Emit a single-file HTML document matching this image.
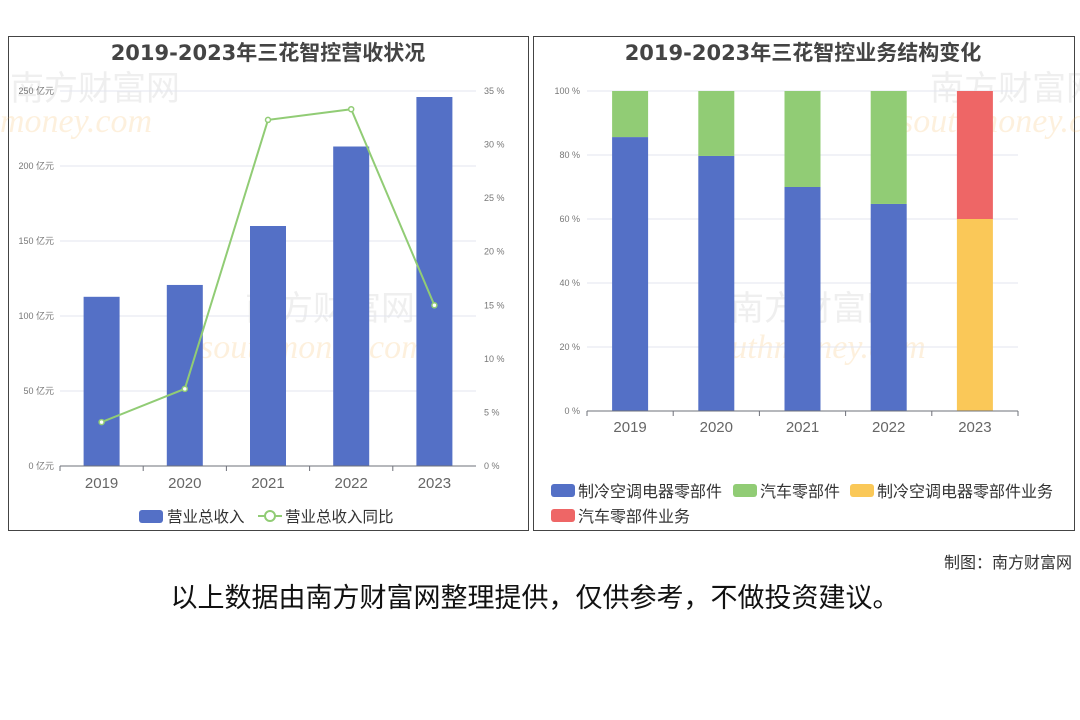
<!DOCTYPE html>
<html><head><meta charset="utf-8"><style>
body{margin:0;width:1080px;height:720px;background:#fff;overflow:hidden;font-family:"Liberation Sans","Noto Sans CJK SC",sans-serif}
svg{position:absolute;left:0;top:0}
</style></head><body>
<svg id="c" width="1080" height="720" font-family="Liberation Sans, Noto Sans CJK SC, sans-serif">
<rect x="8.5" y="36.5" width="520" height="494" fill="#fff" stroke="#444"/>
<rect x="533.5" y="36.5" width="541" height="494" fill="#fff" stroke="#444"/>
<g opacity="0.13" fill="#888" font-size="34">
<text x="10" y="100">南方财富网</text><text x="245" y="320">南方财富网</text><text x="730" y="320">南方财富网</text><text x="930" y="100">南方财富网</text>
</g>
<g opacity="0.18" fill="#f6b24a" font-size="34" font-style="italic" font-family="Liberation Serif, serif">
<text x="0" y="132">money.com</text><text x="200" y="358">southmoney.com</text><text x="700" y="358">southmoney.com</text><text x="900" y="132">southmoney.com</text>
</g>
<text x="268" y="60" text-anchor="middle" font-size="21" font-weight="bold" fill="#444" font-family="DejaVu Sans, Noto Sans CJK SC, sans-serif">2019-2023年三花智控营收状况</text>
<text x="803" y="60" text-anchor="middle" font-size="21" font-weight="bold" fill="#444" font-family="DejaVu Sans, Noto Sans CJK SC, sans-serif">2019-2023年三花智控业务结构变化</text>
<g id="L"></g><g id="R"></g>
<text x="1072" y="568" text-anchor="end" font-size="16" fill="#333">制图：南方财富网</text>
<text x="535" y="607" text-anchor="middle" font-size="27" fill="#111">以上数据由南方财富网整理提供，仅供参考，不做投资建议。</text>
</svg>
<script>
const years=["2019","2020","2021","2022","2023"];
const revenue=[112.8,120.7,160.0,213.0,246.0];
const growth=[4.1,7.2,32.3,33.3,15.0];
const revTicks=[0,50,100,150,200,250];
const pctTicks=[0,5,10,15,20,25,30,35];
const hvac=[85.6,79.7,70.0,64.7,0];
const auto=[14.4,20.3,30.0,35.3,0];
const hvacBiz=[0,0,0,0,60];
const autoBiz=[0,0,0,0,40];
const shareTicks=[0,20,40,60,80,100];
const NS="http://www.w3.org/2000/svg";
function mk(p,t,a,txt){const e=document.createElementNS(NS,t);for(const k in a)e.setAttribute(k,a[k]);if(txt!=null)e.textContent=txt;p.appendChild(e);return e;}
// Left
const L=document.getElementById('L');
const lx0=60,lx1=476,ly0=466,ly1=91,bw=(lx1-lx0)/years.length;
const yRev=v=>ly0-(v/250)*(ly0-ly1), yPct=v=>ly0-(v/35)*(ly0-ly1), xL=i=>lx0+bw*(i+0.5);
revTicks.forEach(v=>{const y=yRev(v);
 if(v>0){let g=mk(L,'line',{x1:lx0,x2:lx1,y1:y,y2:y,stroke:'#e3e6ef'});}
 let t=mk(L,'text',{x:54,y:y+3,'text-anchor':'end','font-size':9,fill:'#777'},v+' 亿元');});
pctTicks.forEach(v=>{let t=mk(L,'text',{x:484,y:yPct(v)+3,'font-size':9,fill:'#777'},v+' %');});
years.forEach((yr,i)=>{const y=yRev(revenue[i]);
 let b=mk(L,'rect',{x:xL(i)-18,y:y,width:36,height:ly0-y,fill:'#5470c6'});
 let t=mk(L,'text',{x:xL(i),y:488,'text-anchor':'middle','font-size':15,fill:'#666'},yr);
 let k=mk(L,'line',{x1:lx0+bw*i,x2:lx0+bw*i,y1:ly0,y2:ly0+5,stroke:'#6e7079'});});
let ax=mk(L,'line',{x1:lx0,x2:lx1,y1:ly0,y2:ly0,stroke:'#6e7079'});
let pl=mk(L,'polyline',{points:growth.map((v,i)=>xL(i)+','+yPct(v)).join(' '),fill:'none',stroke:'#91cc75','stroke-width':2});
growth.forEach((v,i)=>{let c=mk(L,'circle',{cx:xL(i),cy:yPct(v),r:2.5,fill:'#fff',stroke:'#91cc75','stroke-width':1.5});});
let lg1=mk(L,'rect',{x:139,y:510,width:24,height:13,rx:3,fill:'#5470c6'});
let lt1=mk(L,'text',{x:167,y:522,'font-size':15.5,fill:'#333'},'营业总收入');
let lg2=mk(L,'line',{x1:258,x2:282,y1:516,y2:516,stroke:'#91cc75','stroke-width':2});
let lg3=mk(L,'circle',{cx:270,cy:516,r:5,fill:'#fff',stroke:'#91cc75','stroke-width':2});
let lt2=mk(L,'text',{x:285,y:522,'font-size':15.5,fill:'#333'},'营业总收入同比');
// Right
const R=document.getElementById('R');
const rx0=587,rx1=1018,ry0=411,ry1=91,rbw=(rx1-rx0)/years.length;
const yS=v=>ry0-(v/100)*(ry0-ry1), xR=i=>rx0+rbw*(i+0.5);
shareTicks.forEach(v=>{const y=yS(v);
 if(v>0){let g=mk(R,'line',{x1:rx0,x2:rx1,y1:y,y2:y,stroke:'#e3e6ef'});}
 let t=mk(R,'text',{x:580,y:y+3,'text-anchor':'end','font-size':9,fill:'#777'},v+' %');});
const series=[[hvac,'#5470c6','hvac'],[auto,'#91cc75','auto'],[hvacBiz,'#fac858','hvac-biz'],[autoBiz,'#ee6666','auto-biz']];
years.forEach((yr,i)=>{let base=0;
 series.forEach(([arr,col,nm])=>{const v=arr[i];if(v<=0)return;const y=yS(base+v);
  let b=mk(R,'rect',{x:xR(i)-18,y:y,width:36,height:yS(base)-y,fill:col});base+=v;});
 let t=mk(R,'text',{x:xR(i),y:432,'text-anchor':'middle','font-size':15,fill:'#666'},yr);
 let k=mk(R,'line',{x1:rx0+rbw*i,x2:rx0+rbw*i,y1:ry0,y2:ry0+5,stroke:'#6e7079'});});
let k5=mk(R,'line',{x1:rx1,x2:rx1,y1:ry0,y2:ry0+5,stroke:'#6e7079'});
let ax2=mk(R,'line',{x1:rx0,x2:rx1,y1:ry0,y2:ry0,stroke:'#6e7079'});
const legs=[[551,491,'#5470c6','制冷空调电器零部件'],[733,491,'#91cc75','汽车零部件'],[850,491,'#fac858','制冷空调电器零部件业务'],[551,516,'#ee6666','汽车零部件业务']];
legs.forEach(([x,y,c,s])=>{let r=mk(R,'rect',{x:x,y:y-7,width:24,height:13,rx:3,fill:c});
 let t=mk(R,'text',{x:x+27,y:y+6,'font-size':16,fill:'#333'},s);});
</script>
</body></html>
